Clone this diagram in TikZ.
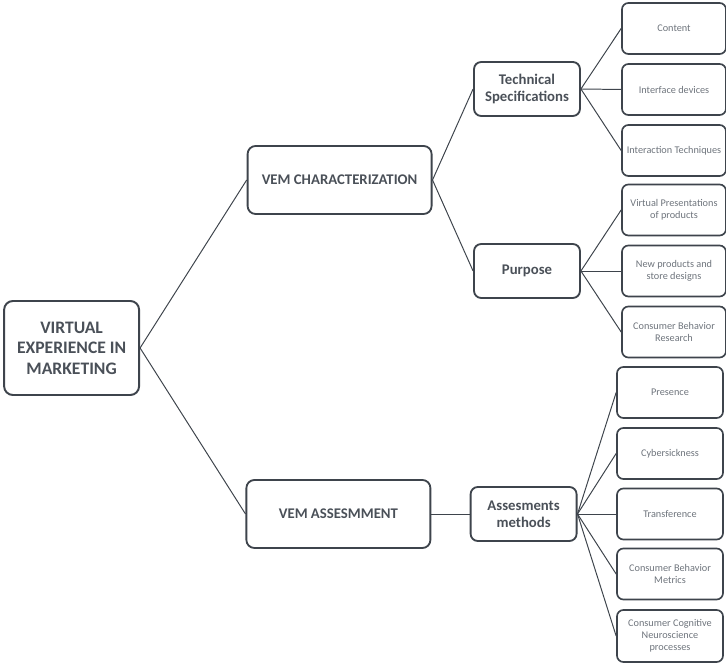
\documentclass[tikz,border=0pt]{standalone}
\usepackage{fontspec}
\setmainfont{Carlito}
\definecolor{boxline}{HTML}{3E444C}
\definecolor{boxtext}{HTML}{4A5058}
\definecolor{leaftext}{HTML}{6E747C}
\tikzset{
  rootbox/.style={draw=boxline,line width=1.4pt,rounded corners=0.22cm,align=center,
    minimum width=3.375cm,minimum height=2.35cm,text=boxtext,font=\fontsize{12.5}{14.5}\selectfont\bfseries},
  mainbox/.style={draw=boxline,line width=1.3pt,rounded corners=0.2cm,align=center,
    minimum width=4.6cm,minimum height=1.7cm,text=boxtext,font=\fontsize{10.5}{12}\selectfont\bfseries},
  subbox/.style={draw=boxline,line width=1.3pt,rounded corners=0.18cm,align=center,
    minimum width=2.65cm,minimum height=1.35cm,text=boxtext,font=\fontsize{10.5}{12}\selectfont\bfseries},
  leafbox/.style={draw=boxline,line width=1.2pt,rounded corners=0.16cm,align=center,inner sep=1pt,
    minimum width=2.6cm,minimum height=1.275cm,text=leaftext,font=\fontsize{7.3}{8.5}\selectfont},
  link/.style={draw=boxline,line width=0.7pt}
}
\begin{document}
\begin{tikzpicture}
        \useasboundingbox (0,0) rectangle (18.15,16.6);
        \node[rootbox] (vem) at (1.79,7.9) {VIRTUAL\\EXPERIENCE IN\\MARKETING};
        \node[mainbox] (charact) at (8.49,12.1) {VEM CHARACTERIZATION};
        \node[mainbox] (assess) at (8.46,3.75) {VEM ASSESMMENT};
        \node[subbox] (techspec) at (13.175,14.375) {Technical\\Specifications};
        \node[subbox] (purpose) at (13.175,9.825) {Purpose};
        \node[subbox] (methods) at (13.09,3.75) {Assesments\\methods};
        \node[leafbox] (content) at (16.85,15.8875) {Content};
        \node[leafbox] (interface) at (16.85,14.3625) {Interface devices};
        \node[leafbox] (interaction) at (16.85,12.8375) {Interaction Techniques};
        \node[leafbox] (virtual) at (16.85,11.35) {Virtual Presentations\\of products};
        \node[leafbox] (newprod) at (16.85,9.825) {New products and\\store designs};
        \node[leafbox] (research) at (16.85,8.3) {Consumer Behavior\\Research};
        \node[leafbox,minimum width=2.65cm] (presence) at (16.75,6.7875) {Presence};
        \node[leafbox,minimum width=2.65cm] (cyber) at (16.75,5.2625) {Cybersickness};
        \node[leafbox,minimum width=2.65cm] (transfer) at (16.75,3.75) {Transference};
        \node[leafbox,minimum width=2.65cm] (metrics) at (16.75,2.25) {Consumer Behavior\\Metrics};
        \node[leafbox,minimum width=2.65cm,minimum height=1.3cm] (neuro) at (16.75,0.7) {Consumer Cognitive\\Neuroscience\\processes};
        \draw[link] (vem.east) -- (charact.west);
        \draw[link] (vem.east) -- (assess.west);
        \draw[link] (charact.east) -- (techspec.west);
        \draw[link] (charact.east) -- (purpose.west);
        \draw[link] (assess.east) -- (methods.west);
        \foreach \leaf in {content,interface,interaction}
          \draw[link] (techspec.east) -- (\leaf.west);
        \foreach \leaf in {virtual,newprod,research}
          \draw[link] (purpose.east) -- (\leaf.west);
        \foreach \leaf in {presence,cyber,transfer,metrics,neuro}
          \draw[link] (methods.east) -- (\leaf.west);
      \end{tikzpicture}
\end{document}
